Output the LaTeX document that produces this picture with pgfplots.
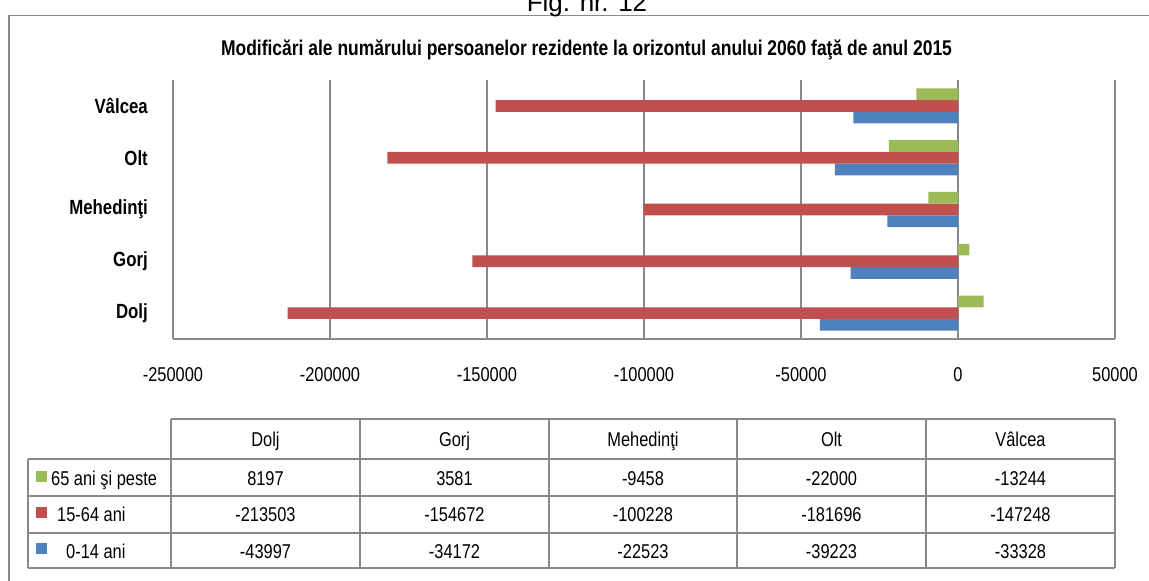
\documentclass[border=0pt]{standalone}
\usepackage{fontspec}
\setmainfont{Liberation Sans}[FakeStretch=0.82]
\newfontfamily\figfont{Liberation Sans}
\usepackage{pgfplots}
\pgfplotsset{compat=1.18}
\definecolor{cgreen}{HTML}{9BBB59}
\definecolor{cred}{HTML}{C0504D}
\definecolor{cblue}{HTML}{4F81BD}
\definecolor{cline}{HTML}{898989}

\begin{document}
\begin{tikzpicture}[x=1pt,y=1pt]
\useasboundingbox (0,0) rectangle (1149,-581);
\clip (0,0) rectangle (1149,-581);
\fill[white] (0,0) rectangle (1149,-581);
\draw[cline, line width=1.5pt] (9,-15.7) rectangle (1165,-600);
\node[font=\figfont\fontsize{26}{30}\selectfont, anchor=base] at (587,-11) {Fig. nr. 12};
\node[font=\bfseries\fontsize{21.3}{25}\selectfont, anchor=base] at (586.5,-55)
  {Modificări ale numărului persoanelor rezidente la orizontul anului 2060 faţă de anul 2015};

\begin{axis}[
  at={(173pt,-339pt)}, anchor=south west,
  scale only axis, width=942pt, height=259pt,
  xbar, bar width=11.7pt,
  xmin=-250000, xmax=50000, ymin=-0.5, ymax=4.5,
  xtick={-250000,-200000,-150000,-100000,-50000,0,50000},
  xticklabels={-250000,-200000,-150000,-100000,-50000,0,50000},
  ytick={0,1,2,3,4},
  yticklabels={Dolj,Gorj,Mehedinţi,Olt,Vâlcea},
  axis x line*=bottom, axis y line*=left,
  x axis line style={cline, line width=1.5pt, -},
  y axis line style={draw=none},
  xmajorgrids, grid style={cline, line width=1.5pt},
  major tick length=0pt,
  x tick label style={font=\fontsize{20}{24}\selectfont, anchor=center, yshift=-36pt},
  y tick label style={font=\bfseries\fontsize{20.5}{24}\selectfont, anchor=east, inner sep=0pt, xshift=-25pt},
  scaled x ticks=false,
]
% 0-14 ani
\addplot[draw=none, fill=cblue, bar shift=-11.7pt] coordinates {
  (-43997,0) (-34172,1) (-22523,2) (-39223,3) (-33328,4)};
% 15-64 ani
\addplot[draw=none, fill=cred, bar shift=0pt] coordinates {
  (-213503,0) (-154672,1) (-100228,2) (-181696,3) (-147248,4)};
% 65 ani si peste
\addplot[draw=none, fill=cgreen, bar shift=11.7pt] coordinates {
  (8197,0) (3581,1) (-9458,2) (-22000,3) (-13244,4)};
\end{axis}

% data table
\begin{scope}[cline, line width=1.5pt]
  \draw (171,-419) -- (1115,-419);
  \draw (28,-459) -- (1115,-459);
  \draw (28,-496) -- (1115,-496);
  \draw (28,-533) -- (1115,-533);
  \draw (28,-568) -- (1115,-568);
  \draw (28,-459) -- (28,-568);
  \foreach \cx in {171,360,549,737,926,1115} \draw (\cx,-419) -- (\cx,-568);
\end{scope}
\begin{scope}[every node/.style={font=\fontsize{20}{24}\selectfont, anchor=base, inner sep=0pt}]
  \foreach \cx/\name in {265.5/Dolj,454.5/Gorj,643/Mehedinţi,831.5/Olt,1020.5/Vâlcea}
    \node at (\cx,-446.5) {\name};
  \foreach \cx/\va/\vb/\vc in {265.5/8197/-213503/-43997,454.5/3581/-154672/-34172,
      643/-9458/-100228/-22523,831.5/-22000/-181696/-39223,1020.5/-13244/-147248/-33328}{
    \node at (\cx,-485) {\va};
    \node at (\cx,-521.5) {\vb};
    \node at (\cx,-558) {\vc};
  }
  \fill[cgreen] (36,-471) rectangle (47,-482);
  \fill[cred] (36,-507) rectangle (47,-518);
  \fill[cblue] (36,-543) rectangle (47,-554);
  \node[anchor=base west] at (51,-485) {65 ani şi peste};
  \node[anchor=base west] at (57,-521.5) {15-64 ani};
  \node[anchor=base west] at (66,-558) {0-14 ani};
\end{scope}
\end{tikzpicture}
\end{document}
